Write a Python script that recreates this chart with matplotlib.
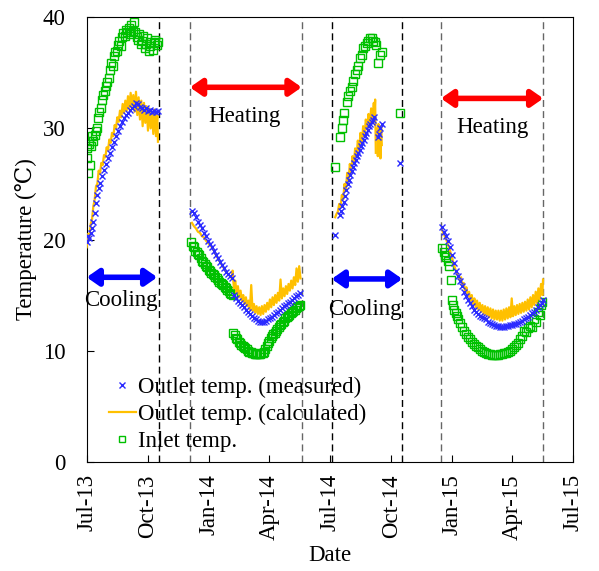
import matplotlib
matplotlib.use("Agg")
import matplotlib.pyplot as plt
import matplotlib.dates as mdates
import numpy as np
import pandas as pd

# start date, all days below are counted from here
start = pd.Timestamp("2013-07-01")

# ---- outlet temp. (measured) ----
meas_d1 = [0, 2, 4, 6, 8, 10, 12, 14, 16, 18, 20, 23, 26, 29, 32, 35, 38, 41, 44, 47,
           50, 53, 56, 59, 62, 65, 68, 71, 74, 77, 80, 83, 86, 89, 92, 95, 98, 101, 104, 107]
meas_t1 = [19.8, 20.3, 20.1, 20.6, 21.0, 21.6, 22.4, 23.3, 24.0, 24.6, 25.1, 25.7, 26.3, 26.8,
           27.3, 27.8, 28.3, 28.8, 29.3, 29.8, 30.2, 30.6, 30.9, 31.2, 31.4, 31.7, 31.8, 32.0,
           32.3, 32.2, 31.9, 31.8, 31.7, 31.8, 31.6, 31.7, 31.5, 31.6, 31.5, 31.6]
meas_d2 = [158, 161, 164, 167, 170, 173, 176, 179, 182, 185, 188, 191, 194, 197, 200, 203, 206,
           209, 212, 215, 218,
           221, 224, 227, 230, 233, 236, 239, 242, 245, 248, 251, 254, 257, 260, 263, 266, 269,
           272, 275, 278, 281, 284, 287, 290, 293, 296, 299, 302, 305, 308, 311, 314, 317, 320]
meas_t2 = [22.6, 22.4, 22.0, 21.6, 21.3, 21.0, 20.6, 20.3, 19.9, 19.6, 19.3, 19.0, 18.6, 18.3,
           18.0, 17.7, 17.4, 17.1, 16.9, 16.7, 16.5,
           15.0, 14.7, 14.5, 14.3, 14.1, 13.9, 13.7, 13.5, 13.3, 13.1, 12.9, 12.8, 12.7, 12.6,
           12.6, 12.6, 12.7, 12.8, 12.9, 13.0, 13.2, 13.4, 13.5, 13.7, 13.8, 14.0, 14.1, 14.3,
           14.4, 14.6, 14.7, 14.9, 15.0, 15.2]
meas_d3 = [372.7, 380, 382, 384, 386, 388, 390, 392, 394, 396, 398, 400, 402, 404, 406, 408,
           410, 412, 414, 416, 418, 420, 422, 424, 426, 428, 430, 432, 437, 439, 441, 443, 470]
meas_t3 = [20.4, 22.2, 22.6, 23.0, 23.4, 23.9, 24.5, 25.0, 25.4, 25.8, 26.2, 26.5, 26.9, 27.2,
           27.5, 27.8, 28.1, 28.4, 28.7, 29.0, 29.3, 29.6, 29.9, 30.2, 30.4, 30.6, 30.8, 31.0,
           29.2, 29.5, 30.0, 30.4, 26.85]
meas_d4 = [533, 536, 539, 542, 545, 548, 551, 554, 557, 560, 563, 566, 569, 572, 575, 578, 581,
           584, 587, 590, 593, 596, 599, 602, 605, 608, 611, 614, 617, 620, 623, 626, 629, 632,
           635, 638, 641, 644, 647, 650, 653, 656, 659, 662, 665, 668, 671, 674, 677, 680, 683, 685]
meas_t4 = [21.1, 20.7, 20.3, 19.9, 19.3, 18.6, 17.9, 17.2, 16.7, 16.3, 15.8, 15.3, 14.9, 14.6,
           14.3, 14.0, 13.7, 13.5, 13.3, 13.1, 13.0, 12.9, 12.8, 12.6, 12.5, 12.4, 12.3, 12.2,
           12.2, 12.15, 12.15, 12.15, 12.2, 12.2, 12.3, 12.3, 12.4, 12.4, 12.5, 12.6, 12.7, 12.8,
           12.9, 13.0, 13.2, 13.35, 13.5, 13.7, 13.9, 14.1, 14.3, 14.6]

# ---- outlet temp. (calculated), one list per continuous stretch ----
calc_d1 = list(range(0, 107, 2)) + [107]
calc_t1 = [19.3, 20.5, 20.2, 21.4, 21.8, 23.0, 23.6, 24.8, 25.0, 26.2, 25.9, 26.9, 26.7, 27.6,
           27.4, 28.3, 28.0, 29.0, 28.7, 29.6, 29.3, 30.3, 30.0, 31.0, 30.6, 31.6, 31.0, 32.2,
           31.4, 32.5, 31.6, 32.9, 31.8, 33.2, 32.0, 33.0, 31.5, 33.3, 31.2, 32.8, 30.8, 32.5,
           30.2, 32.3, 30.5, 32.0, 29.8, 31.8, 30.0, 31.5, 29.5, 31.7, 29.3, 31.2, 28.8]
calc_d2 = list(range(158, 219, 3)) + list(range(219, 322, 2))
calc_t2 = [21.5, 21.2, 21.0, 20.7, 20.6, 20.3, 20.2, 19.9, 19.7, 19.5, 19.3, 19.0, 18.6, 18.3,
           18.0, 17.7, 17.4, 17.1, 16.9, 16.7, 16.5,
           17.2, 15.6, 16.3, 15.2, 15.8, 14.8, 15.4, 14.5, 15.0, 14.2, 14.8, 14.0, 14.5, 13.7,
           15.9, 13.6, 14.2, 13.4, 14.0, 13.3, 13.9, 13.2, 14.0, 13.3, 14.1, 13.5, 14.3, 13.7,
           14.6, 13.9, 14.8, 14.1, 15.0, 14.3, 15.2, 14.5, 16.4, 14.7, 15.6, 14.9, 15.8, 15.1,
           16.0, 15.4, 16.3, 15.6, 16.6, 15.9, 17.4, 16.2, 17.6, 16.5]
calc_d3 = list(range(373, 432, 2)) + [432, 433, 434]
calc_t3 = [22.0, 22.3, 22.5, 23.2, 22.9, 24.0, 23.6, 25.0, 24.4, 26.0, 25.2, 26.8, 26.0, 27.5,
           26.8, 28.2, 27.4, 28.9, 28.0, 29.6, 28.7, 30.2, 29.3, 30.8, 29.9, 31.3, 30.4, 31.8,
           30.8, 32.3, 31.0, 32.6, 27.8]
calc_d4 = [436, 437, 438, 439, 440, 441, 442, 443]
calc_t4 = [30.0, 27.5, 30.4, 27.8, 29.6, 27.3, 30.2, 28.5]
calc_d5 = [533, 536, 539, 542, 545, 548, 551, 554, 557, 560] + list(range(562, 685, 2)) + [685]
calc_t5 = [20.9, 20.5, 20.1, 19.6, 19.1, 18.4, 17.8, 17.2, 16.8, 16.4,
           16.6, 15.8, 16.1, 15.3, 15.7, 14.9, 15.3, 14.5, 15.0, 14.2, 14.7, 13.9, 14.5, 13.7,
           14.3, 13.5, 14.1, 13.3, 14.0, 13.2, 13.9, 13.0, 13.8, 12.9, 13.7, 12.8, 13.6, 12.8,
           13.6, 12.7, 13.6, 12.7, 13.7, 12.8, 13.8, 12.9, 13.9, 13.0, 14.7, 13.1, 14.0, 13.2,
           14.1, 13.3, 14.2, 13.4, 14.3, 13.5, 14.4, 13.6, 14.6, 13.7, 14.8, 13.9, 15.0, 14.1,
           15.3, 14.3, 15.6, 14.6, 16.0, 15.0, 16.4]

# ---- inlet temp. ----
inlet_d1 = [0, 1, 2, 3, 4, 5, 7, 8, 10, 12, 14, 15, 17, 19, 21, 23, 25, 27, 29, 31, 33, 35, 37,
            39, 41, 43, 45, 47, 49, 51, 53, 55, 57, 59, 61, 63, 65, 67, 69, 71, 73, 75, 77, 79,
            81, 83, 85, 87, 89, 91, 93, 95, 97, 99, 101, 103, 105, 107]
inlet_t1 = [27.3, 28.2, 26.0, 28.6, 28.9, 26.7, 28.4, 29.3, 28.9, 29.4, 29.8, 30.0, 30.9, 31.5,
            31.8, 32.6, 33.0, 33.4, 33.8, 34.2, 34.5, 35.3, 35.9, 35.6, 36.5, 36.9, 37.0, 37.5,
            37.9, 37.4, 38.2, 38.6, 38.3, 38.9, 38.7, 39.0, 38.5, 39.3, 38.8, 39.6, 38.7, 38.2,
            38.0, 38.5, 37.6, 37.9, 38.3, 37.2, 37.6, 38.1, 37.0, 37.4, 37.8, 37.1, 37.7, 38.0,
            37.5, 37.8]
inlet_d2 = list(range(157, 220, 2)) + list(range(220, 321, 2))
inlet_t2 = [19.8, 19.4, 19.3, 19.0, 18.9, 18.7, 18.6, 18.3, 18.1, 18.0, 17.8, 17.6, 17.5, 17.3,
            17.2, 17.0, 16.9, 16.8, 16.6, 16.5, 16.4, 16.2, 16.1, 16.0, 15.9, 15.7, 15.6, 15.5,
            15.4, 15.2, 15.1, 15.0,
            11.6, 11.4, 11.1, 11.0, 10.8, 10.7, 10.5, 10.4, 10.3, 10.2, 10.1, 10.0, 9.9, 9.9,
            9.8, 9.8, 9.7, 9.7, 9.7, 9.7, 9.7, 9.8, 9.8, 9.9, 10.1, 10.4, 10.7, 10.9, 11.1, 11.3,
            11.5, 11.6, 11.8, 11.9, 12.1, 12.3, 12.4, 12.6, 12.7, 12.9, 13.0, 13.1, 13.2, 13.4,
            13.5, 13.6, 13.7, 13.8, 13.9, 14.0, 14.1]
inlet_d3 = [372.7, 380.2, 382.7, 385.2, 387, 390.2, 392, 395, 397.7, 400, 402.7, 405.2, 407.7,
            410.2, 412.7, 415.2, 417.7, 420.2, 422.7, 425, 427.7, 430, 432.7, 435, 437.7, 440.2,
            442.7, 470]
inlet_t3 = [26.55, 29.25, 30.0, 30.75, 31.4, 32.4, 32.9, 33.4, 33.75, 34.3, 34.9, 35.25, 35.6,
            36.3, 36.6, 37.2, 37.4, 37.7, 37.9, 38.1, 38.1, 37.9, 37.8, 37.5, 35.85, 36.6, 36.9,
            31.35]
inlet_d4 = [534, 536, 538, 540, 542, 544, 547, 548, 550, 552, 554, 556, 558, 560, 563, 566, 569,
            572, 575, 578, 581, 584, 587, 590, 593, 596, 599, 602, 605, 608, 611, 614, 617, 620,
            623, 626, 629, 632, 635, 638, 641, 644, 647, 650, 653, 656, 659, 662, 665, 668, 671,
            674, 677, 680, 682, 684]
inlet_t4 = [19.2, 18.9, 18.6, 18.4, 18.1, 17.6, 16.35, 14.6, 14.1, 13.7, 13.4, 13.1, 12.8, 12.5,
            12.1, 11.8, 11.5, 11.25, 11.0, 10.8, 10.6, 10.4, 10.3, 10.1, 10.0, 9.9, 9.8, 9.7,
            9.65, 9.6, 9.6, 9.6, 9.6, 9.65, 9.7, 9.75, 9.8, 9.9, 10.0, 10.1, 10.3, 10.5, 10.7,
            11.0, 11.3, 11.8, 11.7, 12.0, 12.2, 12.1, 12.8, 12.6, 13.5, 13.2, 14.1, 14.4]

# season borders (days) and the arrows
cool_lines = [108, 367.7, 473.8]
heat_lines = [155, 322.7, 531.8, 685.4]
heat_arrows = [(155, 322.7, 33.7), (531.8, 685.4, 32.7)]
cool_arrows = [(0, 106, 16.6), (367.7, 473.8, 16.45)]
heat_text = [(237, 31.1), (609, 30.1)]
cool_text = [(52, 14.55), (418, 13.7)]


def to_date(days):
    return start + pd.to_timedelta(np.asarray(days, dtype=float), unit="D")


fs = 16.5
plt.rcParams["font.family"] = ["Liberation Serif", "DejaVu Serif", "DejaVu Sans"]
plt.rcParams["font.size"] = fs

fig = plt.figure(figsize=(5.99, 5.71), dpi=100)
ax = fig.add_axes([0.1447, 0.1914, 0.8119, 0.7783])

for d in cool_lines:
    ax.axvline(to_date([d])[0], color="black", lw=1, ls=(0, (5, 3)), zorder=1)
for d in heat_lines:
    ax.axvline(to_date([d])[0], color="#666666", lw=1, ls=(0, (5, 3)), zorder=1)

green = "#00c000"
for dd, tt in [(inlet_d1, inlet_t1), (inlet_d2, inlet_t2), (inlet_d3, inlet_t3), (inlet_d4, inlet_t4)]:
    ax.plot(to_date(dd), tt, ls="none", marker="s", ms=6, mfc="none", mec=green, mew=1, zorder=2)

orange = "#ffc000"
for dd, tt in [(calc_d1, calc_t1), (calc_d2, calc_t2), (calc_d3, calc_t3), (calc_d4, calc_t4), (calc_d5, calc_t5)]:
    ax.plot(to_date(dd), tt, color=orange, lw=1.6, zorder=3)

blue = "#2b2bff"
for dd, tt in [(meas_d1, meas_t1), (meas_d2, meas_t2), (meas_d3, meas_t3), (meas_d4, meas_t4)]:
    ax.plot(to_date(dd), tt, ls="none", marker="x", ms=4, mec=blue, mew=1, zorder=4)

for d1, d2, t in heat_arrows:
    ax.annotate("", xy=(to_date([d2])[0], t), xytext=(to_date([d1])[0], t),
                arrowprops=dict(arrowstyle="<|-|>,head_length=0.5,head_width=0.35",
                                color="red", lw=4, shrinkA=0, shrinkB=0, mutation_scale=14))
for d1, d2, t in cool_arrows:
    ax.annotate("", xy=(to_date([d2])[0], t), xytext=(to_date([d1])[0], t),
                arrowprops=dict(arrowstyle="<|-|>,head_length=0.5,head_width=0.35",
                                color="blue", lw=4, shrinkA=0, shrinkB=0, mutation_scale=14))
for d, t in heat_text:
    ax.text(to_date([d])[0], t, "Heating", ha="center", va="center", fontsize=fs)
for d, t in cool_text:
    ax.text(to_date([d])[0], t, "Cooling", ha="center", va="center", fontsize=fs)

# legend built from proxy artists
h1, = ax.plot([], [], ls="none", marker="x", ms=4, mec=blue, mew=1)
h2, = ax.plot([], [], color=orange, lw=1.6)
h3, = ax.plot([], [], ls="none", marker="s", ms=5, mfc="none", mec=green, mew=1)
ax.legend([h1, h2, h3], ["Outlet temp. (measured)", "Outlet temp. (calculated)", "Inlet temp."],
          loc="upper left", bbox_to_anchor=(0.045, 0.19), frameon=False, fontsize=fs,
          handlelength=1.2, handletextpad=0.1, labelspacing=0.25, borderpad=0, borderaxespad=0)

ax.set_xlim(pd.Timestamp("2013-07-01"), pd.Timestamp("2015-07-01"))
ax.set_ylim(0, 40)
ax.set_yticks([0, 10, 20, 30, 40])
ax.xaxis.set_major_locator(mdates.MonthLocator(bymonth=[1, 4, 7, 10]))
ax.xaxis.set_major_formatter(mdates.DateFormatter("%b-%y"))
ax.tick_params(direction="in", length=5, labelsize=fs)
ax.tick_params(axis="x", rotation=90, pad=9)
ax.tick_params(axis="y", pad=15)
ax.set_xlabel("Date", fontsize=fs, labelpad=4)
ax.set_ylabel("Temperature (\u2103)", fontsize=fs, labelpad=4)

plt.savefig("out.png", dpi=100)
